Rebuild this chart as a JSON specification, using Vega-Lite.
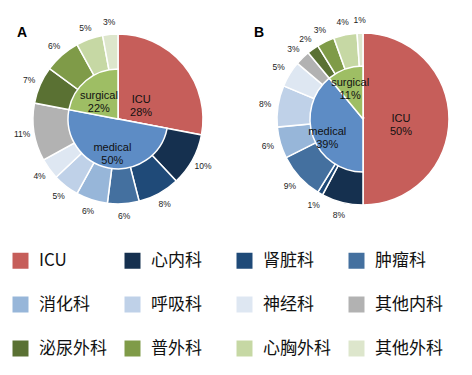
{
  "$schema": "https://vega.github.io/schema/vega-lite/v6.json",
  "padding": 0,
  "background": "white",
  "spacing": 18,
  "bounds": "flush",
  "config": {
    "view": {"stroke": null},
    "legend": {"padding": 0}
  },
  "data": {
    "values": [
      {"p": "A", "ring": "outer", "name": "ICU", "v": 28, "k": 0, "lab": ""},
      {"p": "A", "ring": "outer", "name": "心内科", "v": 10, "k": 1, "lab": "10%"},
      {"p": "A", "ring": "outer", "name": "肾脏科", "v": 8, "k": 2, "lab": "8%"},
      {"p": "A", "ring": "outer", "name": "肿瘤科", "v": 6, "k": 3, "lab": "6%"},
      {"p": "A", "ring": "outer", "name": "消化科", "v": 6, "k": 4, "lab": "6%"},
      {"p": "A", "ring": "outer", "name": "呼吸科", "v": 5, "k": 5, "lab": "5%"},
      {"p": "A", "ring": "outer", "name": "神经科", "v": 4, "k": 6, "lab": "4%"},
      {"p": "A", "ring": "outer", "name": "其他内科", "v": 11, "k": 7, "lab": "11%"},
      {"p": "A", "ring": "outer", "name": "泌尿外科", "v": 7.1, "k": 8, "lab": "7%"},
      {"p": "A", "ring": "outer", "name": "普外科", "v": 6.9, "k": 9, "lab": "6%"},
      {"p": "A", "ring": "outer", "name": "心胸外科", "v": 5.1, "k": 10, "lab": "5%"},
      {"p": "A", "ring": "outer", "name": "其他外科", "v": 2.9, "k": 11, "lab": "3%"},
      {"p": "A", "ring": "inner", "name": "ICU", "v": 28, "k": 0, "lab": "ICU\n28%"},
      {"p": "A", "ring": "inner", "name": "medical", "v": 50, "k": 1, "lab": "medical\n50%"},
      {"p": "A", "ring": "inner", "name": "surgical", "v": 22, "k": 2, "lab": "surgical\n22%"},
      {"p": "B", "ring": "outer", "name": "ICU", "v": 50, "k": 0, "lab": ""},
      {"p": "B", "ring": "outer", "name": "心内科", "v": 7.8, "k": 1, "lab": "8%"},
      {"p": "B", "ring": "outer", "name": "肾脏科", "v": 1, "k": 2, "lab": "1%"},
      {"p": "B", "ring": "outer", "name": "肿瘤科", "v": 8.8, "k": 3, "lab": "9%"},
      {"p": "B", "ring": "outer", "name": "消化科", "v": 5.9, "k": 4, "lab": "6%"},
      {"p": "B", "ring": "outer", "name": "呼吸科", "v": 7.8, "k": 5, "lab": "8%"},
      {"p": "B", "ring": "outer", "name": "神经科", "v": 4.9, "k": 6, "lab": "5%"},
      {"p": "B", "ring": "outer", "name": "其他内科", "v": 2.8, "k": 7, "lab": "3%"},
      {"p": "B", "ring": "outer", "name": "泌尿外科", "v": 2.2, "k": 8, "lab": "2%"},
      {"p": "B", "ring": "outer", "name": "普外科", "v": 3.3, "k": 9, "lab": "3%"},
      {"p": "B", "ring": "outer", "name": "心胸外科", "v": 4.4, "k": 10, "lab": "4%"},
      {"p": "B", "ring": "outer", "name": "其他外科", "v": 1.1, "k": 11, "lab": "1%"},
      {"p": "B", "ring": "inner", "name": "ICU", "v": 50, "k": 0, "lab": "ICU\n50%"},
      {"p": "B", "ring": "inner", "name": "medical", "v": 39, "k": 1, "lab": "medical\n39%"},
      {"p": "B", "ring": "inner", "name": "surgical", "v": 11, "k": 2, "lab": "surgical\n11%"}
    ]
  },
  "hconcat": [
    {
      "width": 236,
      "height": 238,
      "title": {"text": "A", "anchor": "start", "offset": -40, "dx": 17, "fontSize": 14, "fontWeight": "bold", "font": "Liberation Sans", "color": "black"},
      "transform": [{"filter": "datum.p === 'A'"}],
      "layer": [
        {
          "transform": [{"filter": "datum.ring === 'outer'"}],
          "mark": {"type": "arc", "outerRadius": 85, "stroke": "white", "strokeWidth": 1.5},
          "encoding": {
            "theta": {"field": "v", "type": "quantitative", "stack": true},
            "order": {"field": "k", "type": "quantitative"},
            "color": {
              "field": "name", "type": "nominal",
              "scale": {
                "domain": ["ICU", "心内科", "肾脏科", "肿瘤科", "消化科", "呼吸科", "神经科", "其他内科", "泌尿外科", "普外科", "心胸外科", "其他外科", "medical", "surgical"],
                "range": ["#C65E5A", "#15304F", "#1F4A78", "#44709F", "#97B6D9", "#BFD1E8", "#DEE7F2", "#B2B2B2", "#5A7133", "#7F9B48", "#C6D8A4", "#DDE6CC", "#5D8CC5", "#9EBE64"]
              },
              "legend": {
                "values": ["ICU", "心内科", "肾脏科", "肿瘤科", "消化科", "呼吸科", "神经科", "其他内科", "泌尿外科", "普外科", "心胸外科", "其他外科"],
                "orient": "none", "legendX": 12, "legendY": 252, "direction": "horizontal",
                "columns": 4, "title": null, "symbolType": "square", "symbolSize": 256,
                "symbolStrokeWidth": 0, "symbolOpacity": 1,
                "labelFont": "Noto Sans CJK SC", "labelFontSize": 17, "labelColor": "#111",
                "labelOffset": 10, "columnPadding": 17, "rowPadding": 26, "gridAlign": "all", "labelLimit": 0
              }
            }
          }
        },
        {
          "transform": [{"filter": "datum.ring === 'inner'"}],
          "mark": {"type": "arc", "outerRadius": 50, "stroke": "white", "strokeWidth": 1.5},
          "encoding": {
            "theta": {"field": "v", "type": "quantitative", "stack": true},
            "order": {"field": "k", "type": "quantitative"},
            "color": {"field": "name", "type": "nominal"},
            "opacity": {"condition": {"test": "datum.name === 'ICU'", "value": 0}, "value": 1}
          }
        },
        {
          "transform": [{"filter": "datum.ring === 'outer'"}],
          "mark": {"type": "text", "radius": 97, "font": "Liberation Sans", "fontSize": 8.5, "color": "#222", "align": "center", "baseline": "middle"},
          "encoding": {
            "theta": {"field": "v", "type": "quantitative", "stack": true},
            "order": {"field": "k", "type": "quantitative"},
            "text": {"field": "lab"}
          }
        },
        {
          "transform": [{"filter": "datum.ring === 'inner'"}],
          "mark": {"type": "text", "radius": 30, "font": "Liberation Sans", "fontSize": 11, "lineHeight": 13, "lineBreak": "\n", "color": "#111", "align": "center", "baseline": "middle"},
          "encoding": {
            "theta": {"field": "v", "type": "quantitative", "stack": true},
            "order": {"field": "k", "type": "quantitative"},
            "text": {"field": "lab"}
          }
        }
      ]
    },
    {
      "width": 218,
      "height": 238,
      "title": {"text": "B", "anchor": "start", "offset": -40, "dx": 0, "fontSize": 14, "fontWeight": "bold", "font": "Liberation Sans", "color": "black"},
      "transform": [{"filter": "datum.p === 'B'"}],
      "layer": [
        {
          "transform": [{"filter": "datum.ring === 'outer'"}],
          "mark": {"type": "arc", "outerRadius": 86, "stroke": "white", "strokeWidth": 1.5},
          "encoding": {
            "theta": {"field": "v", "type": "quantitative", "stack": true},
            "order": {"field": "k", "type": "quantitative"},
            "color": {"field": "name", "type": "nominal"}
          }
        },
        {
          "transform": [{"filter": "datum.ring === 'inner'"}],
          "mark": {"type": "arc", "outerRadius": 53, "stroke": "white", "strokeWidth": 1.5},
          "encoding": {
            "theta": {"field": "v", "type": "quantitative", "stack": true},
            "order": {"field": "k", "type": "quantitative"},
            "color": {"field": "name", "type": "nominal"},
            "opacity": {"condition": {"test": "datum.name === 'ICU'", "value": 0}, "value": 1}
          }
        },
        {
          "transform": [{"filter": "datum.ring === 'outer'"}],
          "mark": {"type": "text", "radius": 99, "font": "Liberation Sans", "fontSize": 8.5, "color": "#222", "align": "center", "baseline": "middle"},
          "encoding": {
            "theta": {"field": "v", "type": "quantitative", "stack": true},
            "order": {"field": "k", "type": "quantitative"},
            "text": {"field": "lab"}
          }
        },
        {
          "transform": [{"filter": "datum.ring === 'inner'"}],
          "mark": {"type": "text", "radius": 38, "font": "Liberation Sans", "fontSize": 11, "lineHeight": 13, "lineBreak": "\n", "color": "#111", "align": "center", "baseline": "middle"},
          "encoding": {
            "theta": {"field": "v", "type": "quantitative", "stack": true},
            "order": {"field": "k", "type": "quantitative"},
            "text": {"field": "lab"}
          }
        }
      ]
    }
  ]
}
